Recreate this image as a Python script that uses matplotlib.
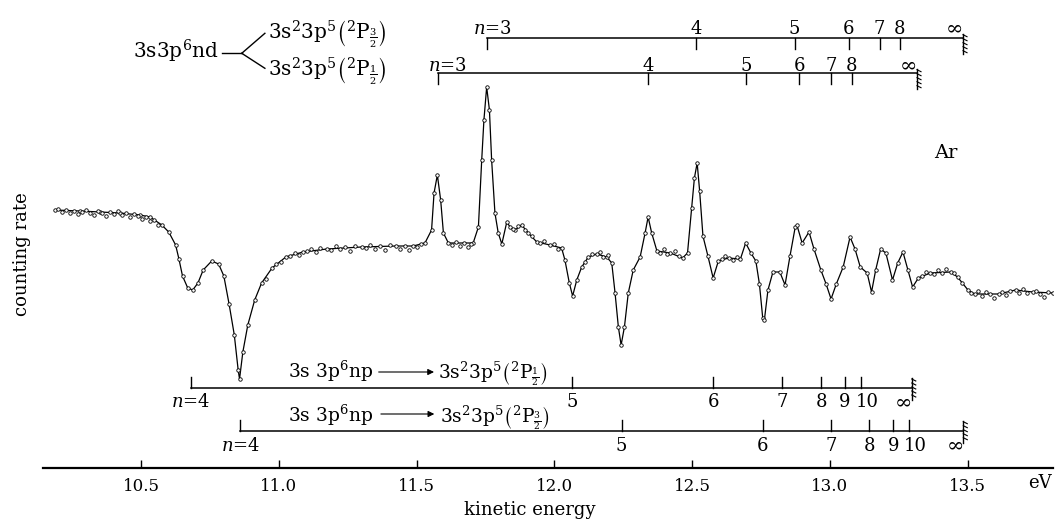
import matplotlib
matplotlib.use('Agg')
import matplotlib.pyplot as plt

plt.rcParams['font.family'] = 'DejaVu Serif'
plt.rcParams['mathtext.fontset'] = 'dejavuserif'

# smooth curve through the measured points (kinetic energy in eV, counting rate in arb. units)
fit_energy = [10.187, 10.278, 10.350, 10.423, 10.496, 10.532, 10.575, 10.600, 10.625, 10.637,
              10.650, 10.669, 10.687, 10.706, 10.725, 10.756, 10.781, 10.800, 10.819, 10.838,
              10.852, 10.857, 10.869, 10.887, 10.912, 10.937, 10.975, 11.025, 11.087, 11.174,
              11.300, 11.425, 11.487, 11.530, 11.554, 11.563, 11.575, 11.587, 11.597, 11.615,
              11.705, 11.724, 11.736, 11.744, 11.754, 11.764, 11.772, 11.784, 11.796, 11.809,
              11.827, 11.839, 11.857, 11.881, 11.905, 11.936, 11.984, 12.026, 12.038, 12.054,
              12.066, 12.081, 12.099, 12.123, 12.153, 12.190, 12.208, 12.220, 12.232, 12.242,
              12.254, 12.268, 12.286, 12.311, 12.329, 12.340, 12.353, 12.372, 12.421, 12.465,
              12.483, 12.498, 12.508, 12.518, 12.527, 12.539, 12.557, 12.576, 12.595, 12.632,
              12.675, 12.694, 12.713, 12.731, 12.744, 12.756, 12.762, 12.775, 12.793, 12.818,
              12.837, 12.855, 12.874, 12.880, 12.899, 12.924, 12.942, 12.967, 12.986, 13.004,
              13.023, 13.048, 13.073, 13.091, 13.110, 13.135, 13.151, 13.166, 13.184, 13.203,
              13.227, 13.246, 13.265, 13.283, 13.300, 13.321, 13.364, 13.439, 13.463, 13.501,
              13.525, 13.612, 13.674, 13.736, 13.810]
fit_rate = [260, 259, 258, 257, 255, 253, 245, 238, 225, 211,
            194, 182, 180, 187, 200, 209, 206, 194, 166, 135,
            100, 91, 118, 145, 170, 187, 202, 213, 218, 221,
            223, 224, 224, 227, 240, 277, 295, 270, 237, 227,
            227, 243, 310, 350, 383, 360, 310, 257, 237, 226,
            248, 243, 240, 245, 237, 228, 225, 222, 210, 187,
            174, 190, 203, 213, 216, 213, 207, 177, 143, 125,
            143, 177, 200, 213, 237, 253, 237, 219, 217, 212,
            217, 262, 292, 307, 279, 234, 214, 192, 209, 212,
            211, 227, 217, 209, 186, 152, 150, 180, 198, 198,
            185, 214, 243, 245, 227, 238, 221, 200, 186, 171,
            186, 203, 233, 221, 203, 197, 178, 200, 221, 217,
            190, 207, 218, 200, 183, 192, 197, 198, 193, 180,
            176, 176, 180, 178, 177]

# measured points lying off the smooth curve
scatter_energy = [10.198, 10.212, 10.227, 10.242, 10.256, 10.271, 10.285, 10.300, 10.314, 10.329,
                  10.343, 10.358, 10.372, 10.387, 10.401, 10.416, 10.430, 10.445, 10.459, 10.474,
                  10.488, 10.503, 10.517, 10.532, 10.546, 10.561,
                  10.953, 10.989, 11.007, 11.040, 11.058, 11.073, 11.102, 11.116, 11.134, 11.149,
                  11.189, 11.207, 11.222, 11.240, 11.258, 11.276, 11.316, 11.330, 11.349, 11.367,
                  11.385, 11.403, 11.439, 11.458, 11.472, 11.501, 11.516,
                  11.628, 11.643, 11.657, 11.672, 11.686, 11.697,
                  11.849, 11.867, 11.893, 11.918, 11.948, 11.962, 11.998, 12.013,
                  12.111, 12.136, 12.165, 12.176, 12.194,
                  12.383, 12.398, 12.409, 12.438, 12.452,
                  12.608, 12.619, 12.648, 12.663,
                  13.334, 13.349, 13.378, 13.392, 13.407, 13.421, 13.450, 13.479, 13.512, 13.537,
                  13.552, 13.566, 13.581, 13.595, 13.625, 13.639, 13.654, 13.686, 13.701, 13.715,
                  13.748, 13.762, 13.777, 13.791]
scatter_rate = [261, 258, 260, 257, 259, 256, 258, 260, 257, 255,
                259, 257, 254, 258, 256, 259, 255, 257, 253, 256,
                254, 251, 253, 249, 250, 245,
                191, 206, 208, 214, 217, 215, 219, 221, 218, 222,
                220, 224, 221, 223, 219, 224, 222, 225, 221, 224,
                220, 225, 221, 224, 220, 223, 226,
                225, 228, 224, 227, 223, 226,
                241, 244, 240, 234, 227, 229, 226, 221,
                208, 216, 218, 213, 215,
                217, 221, 216, 219, 214,
                211, 214, 210, 213,
                194, 198, 196, 200, 197, 201, 197, 187, 177, 179,
                174, 178, 176, 172, 178, 175, 179, 177, 181, 177,
                179, 176, 173, 178]

# Rydberg series positions (eV)
nd_p32_energy = [11.757, 12.515, 12.872, 13.069, 13.180, 13.254]
nd_p32_limit = 13.483
nd_p12_energy = [11.578, 12.340, 12.697, 12.889, 13.004, 13.079]
nd_p12_limit = 13.316
nd_labels = ['3', '4', '5', '6', '7', '8']

np_p12_energy = [10.680, 12.065, 12.577, 12.825, 12.968, 13.054, 13.112]
np_p12_limit = 13.297
np_p32_energy = [10.859, 12.244, 12.756, 13.004, 13.143, 13.230, 13.287]
np_p32_limit = 13.484
np_labels = ['4', '5', '6', '7', '8', '9', '10']

tick_values = [10.5, 11.0, 11.5, 12.0, 12.5, 13.0, 13.5]
tick_labels = ['10.5', '11.0', '11.5', '12.0', '12.5', '13.0', '13.5']

PX = 1 / 275.5  # eV per pixel

fig = plt.figure(figsize=(10.56, 5.21), dpi=100)
ax = fig.add_axes([43 / 1056, 53 / 521, 1010 / 1056, 468 / 521])
ax.set_xlim(10.1436, 13.8096)
ax.set_ylim(2, 470)
for s in ['top', 'left', 'right']:
    ax.spines[s].set_visible(False)
ax.spines['bottom'].set_linewidth(1.6)
ax.set_yticks([])
ax.set_xticks(tick_values)
ax.set_xticklabels(tick_labels)
ax.tick_params(axis='x', direction='in', length=6, width=1, pad=7, labelsize=12)

ax.plot(fit_energy, fit_rate, '-', color='black', lw=0.9, marker='o', ms=2.5,
        mfc='white', mec='black', mew=0.6)
ax.plot(scatter_energy, scatter_rate, 'o', ms=2.5, mfc='white', mec='black', mew=0.6)


def draw_ladder(energies, labels, limit, level, up, base_dy, n_dx):
    tick = 11 if up else -11
    ax.plot([energies[0], limit], [level, level], color='black', lw=1.1)
    for i, (e, lab) in enumerate(zip(energies, labels)):
        ax.plot([e, e], [level, level + tick], color='black', lw=1)
        dx = 0
        if i == 0:
            lab = '$n$=' + lab
            dx = n_dx
        elif lab == '10':
            dx = 6
        ax.annotate(lab, (e, level), xytext=(dx, base_dy), textcoords='offset pixels',
                    ha='center', va='baseline', fontsize=13)
    ax.annotate(r'$\infty$', (limit, level), xytext=(-9, base_dy), textcoords='offset pixels',
                ha='center', va='baseline', fontsize=15)
    # end-of-series hatch
    if up:
        top, bot = level + 10, level - 12
    else:
        top, bot = level + 4, level - 16
    ax.plot([limit, limit], [bot, top], color='black', lw=1)
    for k in range(5):
        y = top - 1 - k * 4
        ax.plot([limit, limit + 4 * PX], [y, y - 2], color='black', lw=0.8)


draw_ladder(nd_p32_energy, nd_labels, nd_p32_limit, 432.3, False, 4, 5)
draw_ladder(nd_p12_energy, nd_labels, nd_p12_limit, 397.3, False, 2, 9)
draw_ladder(np_p12_energy, np_labels, np_p12_limit, 82, True, -19, 0)
draw_ladder(np_p32_energy, np_labels, np_p32_limit, 39.3, True, -20, 0)

# configuration labels
ax.text(10.470, 411.7, r'3s3p$^6$nd', ha='left', va='baseline', fontsize=14.5)
ax.plot([10.792, 10.865], [416.7, 416.7], color='black', lw=1)
ax.plot([10.865, 10.949], [416.7, 436.7], color='black', lw=1)
ax.plot([10.865, 10.949], [416.7, 401.7], color='black', lw=1)
ax.text(10.960, 430.7, r'3s$^2$3p$^5\left({}^2\mathrm{P}_{\frac{3}{2}}\right)$',
        ha='left', va='baseline', fontsize=14.5)
ax.text(10.960, 394, r'3s$^2$3p$^5\left({}^2\mathrm{P}_{\frac{1}{2}}\right)$',
        ha='left', va='baseline', fontsize=14.5)

ax.text(11.033, 92, r'3s 3p$^6$np', ha='left', va='baseline', fontsize=13.5)
ax.annotate('', xy=(11.573, 98), xytext=(11.352, 98),
            arrowprops=dict(arrowstyle='-|>', lw=0.8, color='black', mutation_scale=9))
ax.text(11.577, 92, r'3s$^2$3p$^5\left({}^2\mathrm{P}_{\frac{1}{2}}\right)$',
        ha='left', va='baseline', fontsize=13.5)
ax.text(11.033, 48.3, r'3s 3p$^6$np', ha='left', va='baseline', fontsize=13.5)
ax.annotate('', xy=(11.574, 56), xytext=(11.360, 56),
            arrowprops=dict(arrowstyle='-|>', lw=0.8, color='black', mutation_scale=9))
ax.text(11.585, 48.3, r'3s$^2$3p$^5\left({}^2\mathrm{P}_{\frac{3}{2}}\right)$',
        ha='left', va='baseline', fontsize=13.5)

ax.text(13.421, 317, 'Ar', ha='center', va='center', fontsize=14)
ax.text(13.762, -13, 'eV', ha='center', va='center', fontsize=13)
ax.text(11.911, -40, 'kinetic energy', ha='center', va='center', fontsize=13)
fig.text(22 / 1056, 1 - 254 / 521, 'counting rate', rotation=90, ha='center', va='center',
         fontsize=13)

fig.savefig('out.png', dpi=100)
